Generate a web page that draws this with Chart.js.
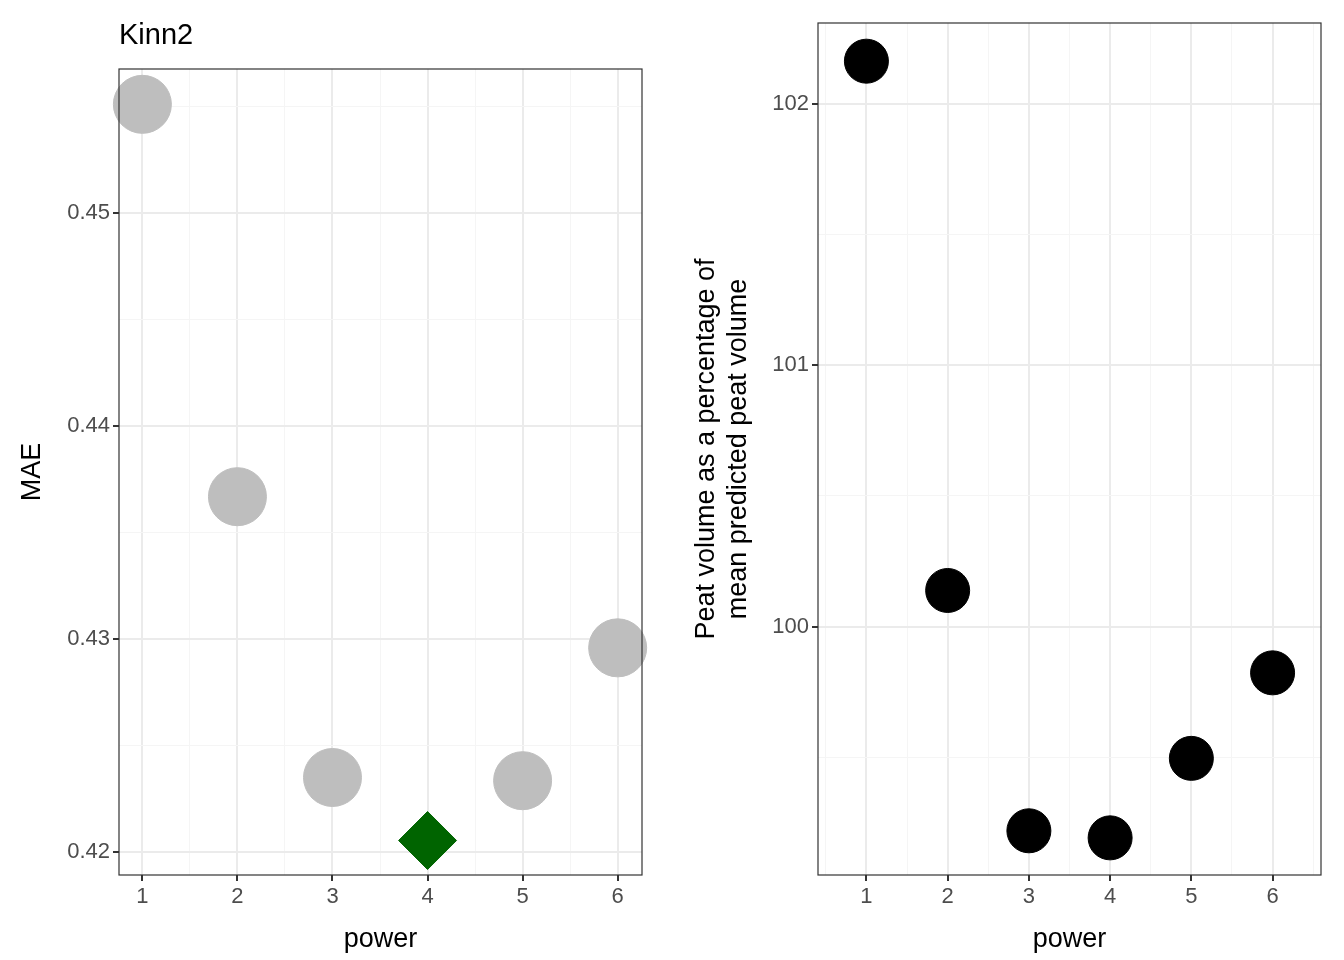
<!DOCTYPE html>
<html>
<head>
<meta charset="utf-8">
<script src="https://cdn.jsdelivr.net/npm/chart.js@4"></script>
<style>
  body { margin: 0; background: #fff; overflow: hidden; }
  .wrap { position: absolute; top: 0; width: 672px; height: 960px; }
</style>
</head>
<body>
<div class="wrap" style="left:0"><canvas id="left" width="672" height="960"></canvas></div>
<div class="wrap" style="left:672px"><canvas id="right" width="672" height="960"></canvas></div>
<script>
const powers = [1, 2, 3, 4, 5, 6];
const mae = [0.4551, 0.43667, 0.42348, 0.42052, 0.42333, 0.42957];
const bestPower = 4;
const peatPct = [102.162, 100.138, 99.219, 99.192, 99.496, 99.823];
const maeTicks = [0.42, 0.43, 0.44, 0.45];
const peatTicks = [100, 101, 102];

const FONT = 'Arial, "Liberation Sans", sans-serif';

const frame = {
  id: 'frame',
  afterDraw(chart) {
    const a = chart.chartArea, c = chart.ctx;
    c.save();
    c.strokeStyle = '#333';
    c.lineWidth = 1.2;
    c.strokeRect(a.left, a.top, a.right - a.left, a.bottom - a.top);
    const t = chart.options.plugins.panelTitle;
    if (t) {
      c.fillStyle = '#000';
      c.font = '29px ' + FONT;
      c.textBaseline = 'alphabetic';
      c.fillText(t, a.left, 44);
    }
    c.restore();
  }
};

function withMinor(scale, majors) {
  const all = [];
  const step = majors[1] - majors[0];
  for (let i = 0; i < majors.length; i++) {
    all.push({ value: majors[i], major: true });
    all.push({ value: +(majors[i] + step / 2).toFixed(6), major: false });
    if (i === 0) all.push({ value: +(majors[0] - step / 2).toFixed(6), major: false });
  }
  scale.ticks = all.filter(t => t.value >= scale.min && t.value <= scale.max).sort((a, b) => a.value - b.value);
}

function makeAxis(opts, fmt) {
  return {
    type: 'linear',
    min: opts.min, max: opts.max,
    afterBuildTicks: s => withMinor(s, opts.ticks),
    afterFit: s => { if (opts.w) s.width = opts.w; if (opts.h) s.height = opts.h; },
    title: { display: true, text: opts.title, color: '#000', font: { family: FONT, size: 27 }, padding: 4 },
    ticks: {
      color: '#4d4d4d', font: { family: FONT, size: 22 }, maxRotation: 0, autoSkip: false,
      callback: (v, i, ts) => ts[i].major ? fmt(v) : ''
    },
    grid: {
      color: ctx => ctx.tick && ctx.tick.major ? '#ebebeb' : '#f5f5f5',
      lineWidth: ctx => ctx.tick && ctx.tick.major ? 2 : 1,
      tickColor: ctx => ctx.tick && ctx.tick.major ? '#333' : 'rgba(0,0,0,0)',
      tickLength: 6
    },
    border: { display: false }
  };
}

// left panel: MAE
new Chart(document.getElementById('left'), {
  type: 'scatter',
  data: {
    datasets: [{
      data: powers.map((p, i) => ({ x: p, y: mae[i] })),
      pointRadius: 29,
      pointHoverRadius: 29,
      pointStyle: powers.map(p => p === bestPower ? 'rectRot' : 'circle'),
      backgroundColor: powers.map(p => p === bestPower ? '#006400' : '#bebebe'),
      borderColor: powers.map(p => p === bestPower ? '#006400' : '#bebebe'),
      clip: false
    }]
  },
  options: {
    responsive: false, animation: false,
    layout: { padding: { top: 69, right: 2, left: 12, bottom: 0 } },
    plugins: { legend: { display: false }, tooltip: { enabled: false }, panelTitle: 'Kinn2' },
    scales: {
      x: makeAxis({ min: 0.754, max: 6.256, ticks: powers, title: 'power', h: 85 }, v => String(v)),
      y: makeAxis({ min: 0.4189, max: 0.45676, ticks: maeTicks, title: 'MAE', w: 107 }, v => v.toFixed(2))
    }
  },
  plugins: [frame]
});

// right panel: peat volume
new Chart(document.getElementById('right'), {
  type: 'scatter',
  data: {
    datasets: [{
      data: powers.map((p, i) => ({ x: p, y: peatPct[i] })),
      pointRadius: 22,
      pointHoverRadius: 22,
      backgroundColor: '#000',
      borderColor: '#000',
      clip: false
    }]
  },
  options: {
    responsive: false, animation: false,
    layout: { padding: { top: 9, right: 11, left: 14, bottom: 0 } },
    plugins: { legend: { display: false }, tooltip: { enabled: false } },
    scales: {
      x: makeAxis({ min: 0.404, max: 6.596, ticks: powers, title: 'power', h: 85 }, v => String(v)),
      y: makeAxis({ min: 99.05, max: 102.308, ticks: peatTicks,
        title: ['Peat volume as a percentage of', 'mean predicted peat volume'], w: 132 }, v => String(v))
    }
  },
  plugins: [frame]
});
</script>
</body>
</html>
